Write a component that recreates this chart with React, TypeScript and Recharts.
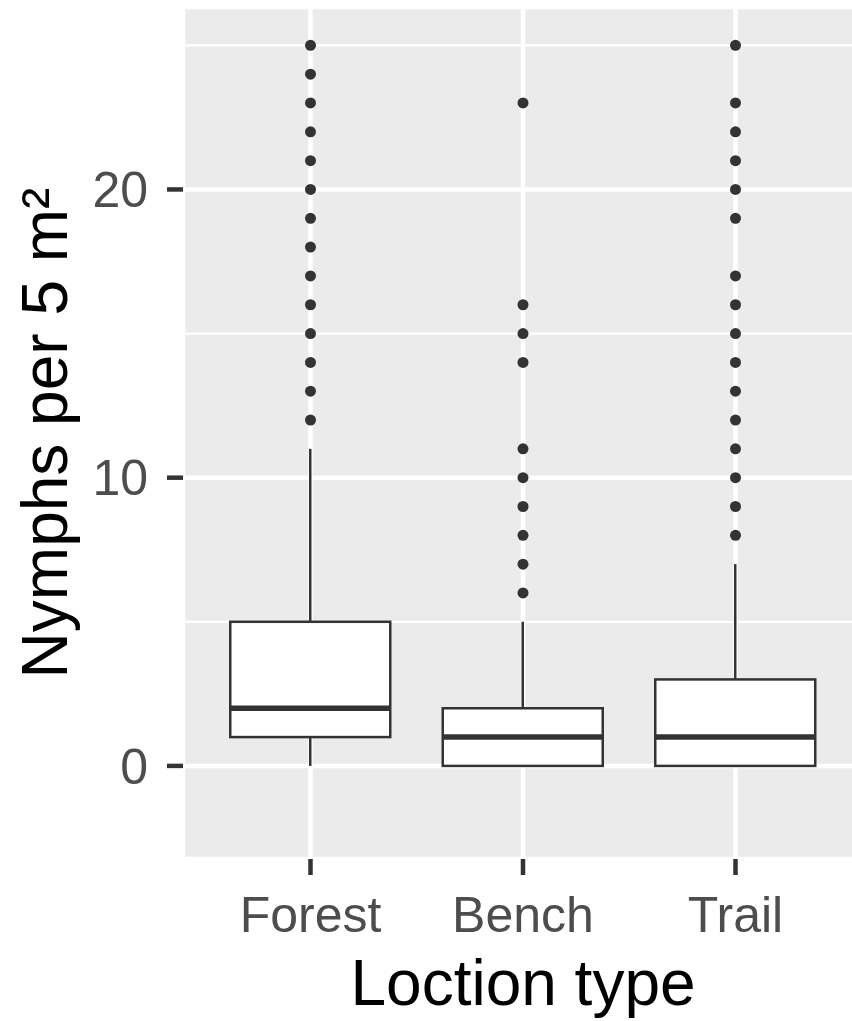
import React from "react";
import {
  ComposedChart,
  Bar,
  Scatter,
  XAxis,
  YAxis,
  CartesianGrid,
  Label,
} from "recharts";

// box statistics per location (Nymphs per 5 m²)
const locations = ["Forest", "Bench", "Trail"];
const whiskerLow = [0, 0, 0];
const lowerQuartile = [1, 0, 0];
const medians = [2, 1, 1];
const upperQuartile = [5, 2, 3];
const whiskerHigh = [11, 5, 7];

// outliers above the upper whisker
const forestOutliers = [12, 13, 14, 15, 16, 17, 18, 19, 20, 21, 22, 23, 24, 25];
const benchOutliers = [6, 7, 8, 9, 10, 11, 14, 15, 16, 23];
const trailOutliers = [8, 9, 10, 11, 12, 13, 14, 15, 16, 17, 19, 20, 21, 22, 23, 25];

const yTicks = [0, 10, 20];
const yMinor = [5, 15, 25];

const boxData = locations.map((loc, i) => ({
  x: i + 1,
  loc,
  whisker: [whiskerLow[i], whiskerHigh[i]],
  low: whiskerLow[i],
  q1: lowerQuartile[i],
  median: medians[i],
  q3: upperQuartile[i],
  high: whiskerHigh[i],
}));

const outlierData = [forestOutliers, benchOutliers, trailOutliers].flatMap(
  (vals, i) => vals.map((n) => ({ x: i + 1, n }))
);

const INK = "#333333";
const FONT = '"Liberation Sans", Arial, sans-serif';

function BoxShape(props: any) {
  const { x, y, width, height, payload } = props;
  const top = Math.min(y, y + height);
  const bot = Math.max(y, y + height);
  const span = payload.high - payload.low;
  const py = (v: number) => bot - ((bot - top) * (v - payload.low)) / span;
  const cx = x + width / 2;
  return (
    <g>
      <line x1={cx} x2={cx} y1={py(payload.high)} y2={py(payload.q3)} stroke={INK} strokeWidth={2.5} />
      <line x1={cx} x2={cx} y1={py(payload.q1)} y2={py(payload.low)} stroke={INK} strokeWidth={2.5} />
      <rect
        x={x}
        y={py(payload.q3)}
        width={width}
        height={py(payload.q1) - py(payload.q3)}
        fill="#ffffff"
        stroke={INK}
        strokeWidth={2.5}
      />
      <line x1={x} x2={x + width} y1={py(payload.median)} y2={py(payload.median)} stroke={INK} strokeWidth={5.5} />
    </g>
  );
}

const Dot = (p: any) => <circle cx={p.cx} cy={p.cy} r={5.5} fill={INK} />;

export default function App() {
  return (
    <div
      style={{
        position: "absolute",
        left: 0,
        top: 0,
        width: 852,
        height: 1021,
        overflow: "hidden",
        background: "#ffffff",
        fontFamily: FONT,
      }}
    >
      <ComposedChart
        width={863}
        height={1021}
        data={boxData}
        margin={{ top: 7, right: 0, bottom: 0, left: 0 }}
      >
        <CartesianGrid
          fill="#EBEBEB"
          stroke="#ffffff"
          strokeWidth={2.3}
          vertical={false}
          horizontalValues={yMinor}
        />
        <CartesianGrid stroke="#ffffff" strokeWidth={4.5} />
        <XAxis
          type="number"
          dataKey="x"
          domain={[0.4, 3.6]}
          ticks={[1, 2, 3]}
          interval={0}
          allowDataOverflow
          tickFormatter={(v: number) => locations[v - 1]}
          height={162}
          tickSize={16}
          tickMargin={21}
          axisLine={false}
          tickLine={{ stroke: INK, strokeWidth: 4.5 }}
          tick={{ fill: "#4D4D4D", fontSize: 50, fontFamily: FONT }}
        >
          <Label
            value="Loction type"
            position="insideBottom"
            offset={16}
            fill="#000000"
            fontSize={64}
            fontFamily={FONT}
          />
        </XAxis>
        <YAxis
          type="number"
          domain={[-3.23, 26.33]}
          ticks={yTicks}
          allowDataOverflow
          width={183}
          tickSize={16}
          tickMargin={19}
          axisLine={false}
          tickLine={{ stroke: INK, strokeWidth: 4.5 }}
          tick={{ fill: "#4D4D4D", fontSize: 50, fontFamily: FONT }}
        >
          <Label
            value="Nymphs per 5 m²"
            angle={-90}
            position="insideLeft"
            offset={44}
            textAnchor="middle"
            fill="#000000"
            fontSize={64}
            fontFamily={FONT}
          />
        </YAxis>
        <Bar dataKey="whisker" barSize={160} shape={BoxShape} isAnimationActive={false} />
        <Scatter data={outlierData} dataKey="n" shape={Dot} isAnimationActive={false} />
      </ComposedChart>
    </div>
  );
}
